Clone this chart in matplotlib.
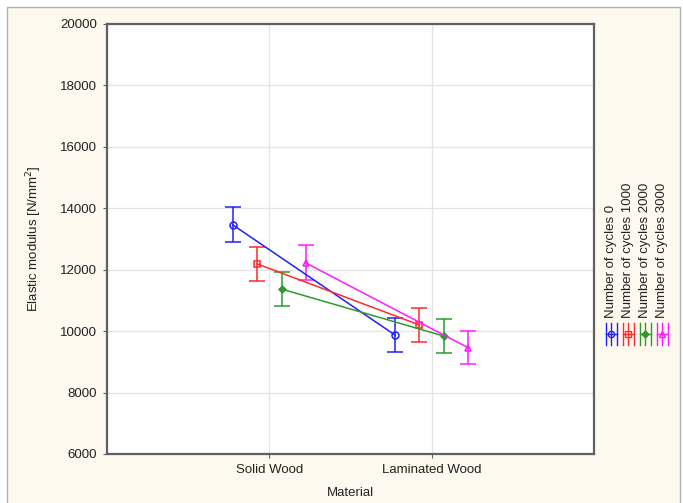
import matplotlib.pyplot as plt
import matplotlib.patches as mpatches
import numpy as np

plt.rcParams['font.family'] = ['Liberation Sans', 'DejaVu Sans']

materials = ['Solid Wood', 'Laminated Wood']
series = ['Number of cycles 0', 'Number of cycles 1000',
          'Number of cycles 2000', 'Number of cycles 3000']

cycles0 = [13460, 9870]
cycles1000 = [12190, 10200]
cycles2000 = [11370, 9840]
cycles3000 = [12220, 9460]

err0 = [570, 560]
err1000 = [560, 550]
err2000 = [550, 550]
err3000 = [570, 540]

means = [cycles0, cycles1000, cycles2000, cycles3000]
errs = [err0, err1000, err2000, err3000]
colors = ['#1f1fff', '#ff2a2a', '#2e9a2e', '#ff1aff']
markers = ['o', 's', 'D', '^']
filled = [False, False, True, False]
offsets = [-0.225, -0.075, 0.075, 0.225]

fig = plt.figure(figsize=(6.83, 5.03), dpi=100)
fig.patch.set_facecolor('white')
# cream panel behind everything, running off the bottom edge
fig.patches.append(mpatches.Rectangle((7 / 683, -0.05), 673 / 683, 1.05 - 7 / 503,
                                      transform=fig.transFigure, facecolor='#fef9ee',
                                      edgecolor='#b0b0b0', lw=1.0, zorder=-10))

ax = fig.add_axes([107 / 683, 49 / 503, 487 / 683, 430 / 503])
ax.set_facecolor('white')

x = np.arange(1, len(materials) + 1)
for m, e, c, mk, f, off in zip(means, errs, colors, markers, filled, offsets):
    ax.errorbar(x + off, m, yerr=e, color=c, lw=1.1, capsize=6, capthick=1.1,
                marker=mk, ms=5 if mk != 'D' else 3.5,
                mfc=c if f else 'none', mec=c, mew=1.1)

ax.set_xlim(0, 3)
ax.set_ylim(6000, 20000)
ax.set_yticks(np.arange(6000, 20001, 2000))
ax.set_xticks(x)
ax.set_xticklabels(materials)
ax.grid(True, color='#e4e4e4', lw=0.9)
ax.set_axisbelow(True)
for s in ax.spines.values():
    s.set_color('#606060')
    s.set_linewidth(1.6)
ax.tick_params(direction='out', length=3, width=0.8, color='#606060',
               labelsize=9.5, labelcolor='#222222', pad=4)
ax.set_xlabel('Material', fontsize=9.5, color='#222222', labelpad=8)
ax.set_ylabel('Elastic modulus [N/mm$^2$]', fontsize=9.5, color='#222222', labelpad=12)

# rotated legend on the right
lx = [611, 628, 645, 662]
for name, c, mk, f, xx in zip(series, colors, markers, filled, lx):
    fx = xx / 683
    fig.text(fx, 1 - 318 / 503, name, rotation=90, ha='center', va='bottom',
             fontsize=9.5, color='#222222')
    yc = 1 - 334 / 503
    h = 11 / 503
    w = 5.5 / 683
    for dx in (-w, w, 0):
        fig.add_artist(plt.Line2D([fx + dx, fx + dx], [yc - h, yc + h], color=c, lw=1.0))
    fig.add_artist(plt.Line2D([fx - w, fx + w], [yc, yc], color=c, lw=1.0))
    fig.add_artist(plt.Line2D([fx], [yc], marker=mk, ms=4.5 if mk != 'D' else 3.5,
                              color=c, mfc=c if f else 'none', mec=c, mew=1.0))

fig.savefig('out.png', dpi=100)
